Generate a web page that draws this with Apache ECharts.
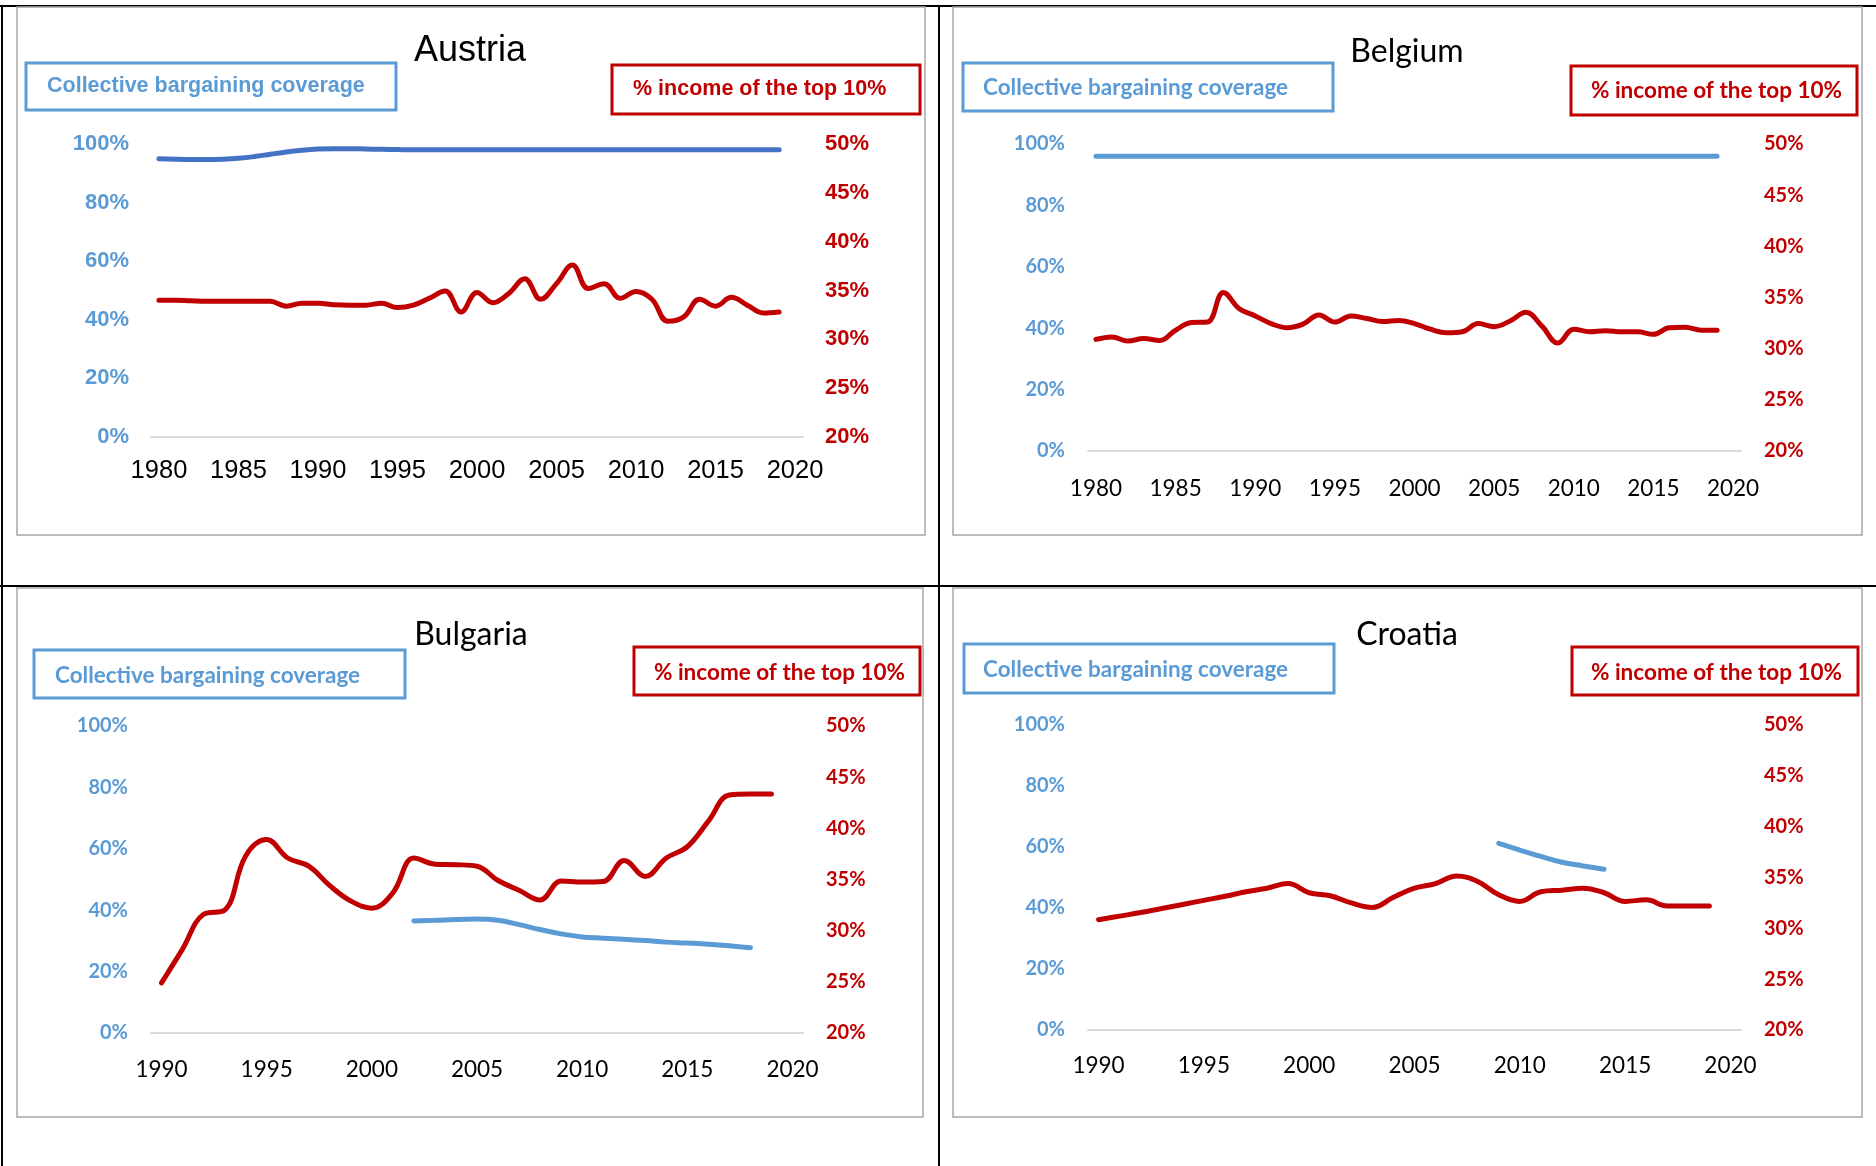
<!DOCTYPE html>
<html>
<head>
<meta charset="utf-8">
<title>Collective bargaining coverage and top 10% income share</title>
<script src="https://cdn.jsdelivr.net/npm/echarts@6/dist/echarts.min.js"></script>
<style>
  html, body { margin: 0; padding: 0; background: #fff; }
  #chart { width: 1876px; height: 1166px; }
</style>
</head>
<body>
<div id="chart"></div>
<script>
function yearRange(a, b){ const out = []; for(let y = a; y <= b; y++) out.push(String(y)); return out; }

// category axes (tick labels every 5 years)
const yearsFrom1980 = yearRange(1980, 2020);
const yearsFrom1990 = yearRange(1990, 2020);

// Austria, 1980-2019
const austriaCoverage = [95.0, 94.8, 94.7, 94.7, 94.8, 95.1, 95.7, 96.5, 97.3, 97.9,
  98.3, 98.4, 98.4, 98.3, 98.2, 98.1, 98.0, 98.0, 98.0, 98.0,
  98.0, 98.0, 98.0, 98.0, 98.0, 98.0, 98.0, 98.0, 98.0, 98.0,
  98.0, 98.0, 98.0, 98.0, 98.0, 98.0, 98.0, 98.0, 98.0, 98.0];
const austriaTop10 = [34.0, 34.0, 33.95, 33.9, 33.9, 33.9, 33.9, 33.9, 33.4, 33.7,
  33.7, 33.55, 33.5, 33.5, 33.7, 33.25, 33.5, 34.2, 34.95, 32.8,
  34.8, 33.75, 34.7, 36.2, 34.1, 35.7, 37.6, 35.2, 35.7, 34.2,
  34.9, 34.1, 31.85, 32.3, 34.1, 33.4, 34.3, 33.5, 32.7, 32.8];

// Belgium, 1980-2019
const belgiumCoverage = [96, 96, 96, 96, 96, 96, 96, 96, 96, 96,
  96, 96, 96, 96, 96, 96, 96, 96, 96, 96,
  96, 96, 96, 96, 96, 96, 96, 96, 96, 96,
  96, 96, 96, 96, 96, 96, 96, 96, 96, 96];
const belgiumTop10 = [30.9, 31.15, 30.75, 31.0, 30.8, 31.8, 32.55, 32.6, 35.5, 33.9,
  33.2, 32.45, 32.05, 32.4, 33.3, 32.6, 33.2, 32.95, 32.65, 32.75,
  32.45, 31.9, 31.55, 31.65, 32.45, 32.15, 32.7, 33.55, 32.2, 30.55,
  31.9, 31.65, 31.75, 31.65, 31.65, 31.4, 32.05, 32.1, 31.8, 31.8];

// Bulgaria
const bulgariaTop10 = [24.9, 28.2, 31.6, 32.0, 37.3, 38.9, 37.1, 36.3, 34.4, 32.9,
  32.2, 33.7, 37.1, 36.5, 36.45, 36.3, 34.9, 33.95, 33.0, 34.85,
  34.75, 34.8, 36.85, 35.3, 37.1, 38.2, 40.7, 43.25, 43.35, 43.35]; // 1990-2019
const bulgariaCoverageYears = ['2002','2003','2004','2005','2006','2007','2008','2009','2010',
  '2011','2012','2013','2014','2015','2016','2017','2018'];
const bulgariaCoverage = [36.5, 36.7, 37.0, 37.1, 36.7, 35.3, 33.7, 32.3, 31.3,
  30.9, 30.5, 30.1, 29.6, 29.3, 28.9, 28.4, 27.8];

// Croatia
const croatiaTop10 = [30.85, 31.2, 31.55, 31.95, 32.35, 32.75, 33.15, 33.6, 33.95, 34.4,
  33.5, 33.2, 32.5, 32.05, 33.05, 33.95, 34.4, 35.15, 34.6, 33.3,
  32.65, 33.6, 33.75, 33.95, 33.5, 32.65, 32.8, 32.2, 32.2, 32.2]; // 1990-2019
const croatiaCoverageYears = ['2009','2010','2011','2012','2013','2014'];
const croatiaCoverage = [61.2, 59.0, 56.9, 55.0, 53.8, 52.7];

const BLUE = '#5b9bd5', RED = '#c00000';
const ARIAL = '"Liberation Sans", Arial, sans-serif';
const CALI = 'Lato, "Open Sans", sans-serif';

function pairs(years, vals){ return vals.map((v, i) => [years[i], v]); }

const panels = [
  { title: 'Austria', font: ARIAL, titleSize: 36, titleX: 470, titleY: 51,
    grid: { left: 151, top: 144, width: 652, height: 293 },
    years: yearsFrom1980, coverage: pairs(yearsFrom1980, austriaCoverage), top10: pairs(yearsFrom1980, austriaTop10),
    covColor: '#4472c4', ySize: 22, xSize: 25.5, yMargin: 22, xMargin: 21, boxSize: 21.5,
    frame: [17, 7, 908, 528], blueBox: [26, 63, 370, 47, 47, 86], redBox: [612, 65, 308, 49, 633, 89] },
  { title: 'Belgium', font: CALI, titleSize: 32, titleX: 1407, titleY: 52,
    grid: { left: 1088, top: 144, width: 653, height: 307 },
    years: yearsFrom1980, coverage: pairs(yearsFrom1980, belgiumCoverage), top10: pairs(yearsFrom1980, belgiumTop10),
    covColor: BLUE, ySize: 20, xSize: 22.5, yMargin: 23, xMargin: 26, boxSize: 22.5,
    frame: [953, 7, 909, 528], blueBox: [963, 63, 370, 48, 983, 88], redBox: [1571, 66, 286, 49, 1591, 91] },
  { title: 'Bulgaria', font: CALI, titleSize: 32, titleX: 471, titleY: 635,
    grid: { left: 151, top: 726, width: 652, height: 307 },
    years: yearsFrom1990, coverage: pairs(bulgariaCoverageYears, bulgariaCoverage), top10: pairs(yearsFrom1990, bulgariaTop10),
    covColor: BLUE, ySize: 20, xSize: 22.5, yMargin: 23, xMargin: 25, boxSize: 22.5,
    frame: [17, 588, 906, 529], blueBox: [34, 650, 371, 48, 55, 676], redBox: [634, 647, 286, 48, 654, 673] },
  { title: 'Croatia', font: CALI, titleSize: 32, titleX: 1407, titleY: 635,
    grid: { left: 1088, top: 725, width: 653, height: 305 },
    years: yearsFrom1990, coverage: pairs(croatiaCoverageYears, croatiaCoverage), top10: pairs(yearsFrom1990, croatiaTop10),
    covColor: BLUE, ySize: 20, xSize: 22.5, yMargin: 23, xMargin: 24, boxSize: 22.5,
    frame: [953, 588, 909, 529], blueBox: [964, 644, 370, 49, 983, 670], redBox: [1572, 647, 286, 48, 1591, 673] }
];

const grids = [], xAxes = [], yAxes = [], series = [];
const graphics = [
  // table lines of the document
  { type: 'rect', shape: { x: 0, y: 5, width: 1876, height: 2 }, style: { fill: '#000' }, silent: true },
  { type: 'rect', shape: { x: 0, y: 585, width: 1876, height: 2 }, style: { fill: '#000' }, silent: true },
  { type: 'rect', shape: { x: 1, y: 5, width: 2, height: 1161 }, style: { fill: '#000' }, silent: true },
  { type: 'rect', shape: { x: 938, y: 5, width: 2, height: 1161 }, style: { fill: '#000' }, silent: true }
];

panels.forEach((p, i) => {
  grids.push(p.grid);
  xAxes.push({
    type: 'category', gridIndex: i, data: p.years, boundaryGap: true,
    axisTick: { show: false },
    axisLine: { lineStyle: { color: '#d9d9d9', width: 2 } },
    axisLabel: { interval: 4, color: '#000', fontFamily: p.font, fontSize: p.xSize, margin: p.xMargin },
    splitLine: { show: false }
  });
  yAxes.push({
    type: 'value', gridIndex: i, position: 'left', min: 0, max: 100, interval: 20,
    axisLine: { show: false }, axisTick: { show: false }, splitLine: { show: false },
    axisLabel: { formatter: '{value}%', color: BLUE, fontWeight: 'bold', fontFamily: p.font, fontSize: p.ySize, margin: p.yMargin }
  });
  yAxes.push({
    type: 'value', gridIndex: i, position: 'right', min: 20, max: 50, interval: 5,
    axisLine: { show: false }, axisTick: { show: false }, splitLine: { show: false },
    axisLabel: { formatter: '{value}%', color: RED, fontWeight: 'bold', fontFamily: p.font, fontSize: p.ySize, margin: p.yMargin }
  });
  series.push({
    name: p.title + ' coverage', type: 'line', xAxisIndex: i, yAxisIndex: i * 2,
    data: p.coverage, smooth: 0.4, symbol: 'none',
    lineStyle: { color: p.covColor, width: 5, cap: 'round' }
  });
  series.push({
    name: p.title + ' top 10%', type: 'line', xAxisIndex: i, yAxisIndex: i * 2 + 1,
    data: p.top10, smooth: 0.4, symbol: 'none',
    lineStyle: { color: RED, width: 5, cap: 'round' }
  });

  const f = p.frame, b = p.blueBox, r = p.redBox;
  graphics.push(
    { type: 'rect', shape: { x: f[0], y: f[1], width: f[2], height: f[3] }, style: { fill: 'none', stroke: '#a6a6a6', lineWidth: 1.5 }, silent: true },
    { type: 'text', x: p.titleX, y: p.titleY, style: { text: p.title, font: 'normal ' + p.titleSize + 'px ' + p.font, fill: '#000', align: 'center', verticalAlign: 'middle' } },
    { type: 'rect', shape: { x: b[0], y: b[1], width: b[2], height: b[3] }, style: { fill: 'none', stroke: BLUE, lineWidth: 3 } },
    { type: 'text', x: b[4], y: b[5], style: { text: 'Collective bargaining coverage', font: 'bold ' + p.boxSize + 'px ' + p.font, fill: BLUE, align: 'left', verticalAlign: 'middle' } },
    { type: 'rect', shape: { x: r[0], y: r[1], width: r[2], height: r[3] }, style: { fill: 'none', stroke: RED, lineWidth: 3 } },
    { type: 'text', x: r[4], y: r[5], style: { text: '% income of the top 10%', font: 'bold ' + p.boxSize + 'px ' + p.font, fill: RED, align: 'left', verticalAlign: 'middle' } }
  );
});

const chart = echarts.init(document.getElementById('chart'));
chart.setOption({
  backgroundColor: '#fff',
  animation: false,
  grid: grids,
  xAxis: xAxes,
  yAxis: yAxes,
  series: series,
  graphic: graphics
});
</script>
</body>
</html>
